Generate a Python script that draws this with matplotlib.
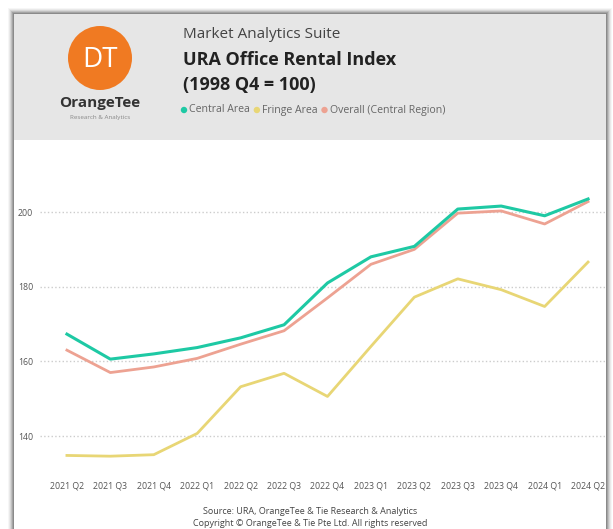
import matplotlib.pyplot as plt
from matplotlib.patches import Rectangle, Circle

plt.rcParams['font.family'] = ['Open Sans', 'DejaVu Sans']

quarters = ["2021 Q2", "2021 Q3", "2021 Q4", "2022 Q1", "2022 Q2", "2022 Q3", "2022 Q4",
            "2023 Q1", "2023 Q2", "2023 Q3", "2023 Q4", "2024 Q1", "2024 Q2"]
central = [167.3, 160.6, 162.0, 163.7, 166.3, 169.8, 181.0, 188.0, 190.8, 200.8, 201.6, 199.0, 203.5]
fringe = [134.8, 134.6, 135.0, 140.7, 153.2, 156.8, 150.6, 164.0, 177.2, 182.1, 179.2, 174.7, 186.6]
overall = [163.0, 157.0, 158.5, 160.8, 164.6, 168.2, 177.0, 186.0, 190.0, 199.7, 200.3, 196.8, 202.8]
yticks = [140, 160, 180, 200]

c_central = '#1ec9a4'
c_fringe = '#e8d675'
c_overall = '#eda292'

W, H = 613, 529
fig = plt.figure(figsize=(W / 100, H / 100), dpi=100)

# background layer in pixel coordinates
bg = fig.add_axes([0, 0, 1, 1])
bg.set_xlim(0, W)
bg.set_ylim(H, 0)
bg.axis('off')

# card shadow + card
for i, a in enumerate([0.05, 0.08, 0.12, 0.18, 0.25, 0.32]):
    bg.add_patch(Rectangle((8 + i, 8 + i), 606 - 8 + 6 - 2 * i, H, color='#555555', alpha=a, lw=0))
bg.add_patch(Rectangle((14, 14), 606 - 14, H, color='white', lw=0))
bg.add_patch(Rectangle((14, 14), 606 - 14, 126, color='#e6e6e6', lw=0))

# logo
bg.add_patch(Circle((100, 58), 32, color='#f07a22', lw=0))
bg.text(100, 60, "DT", color='white', fontsize=20, ha='center', va='center')
bg.text(100, 103, "OrangeTee", color='#333333', fontsize=11, fontweight='bold',
        ha='center', va='center')
bg.text(100, 118, "Research & Analytics", color='#888888', fontsize=4.5,
        ha='center', va='center')

# titles
bg.text(183, 35, "Market Analytics Suite", color='#444444', fontsize=11, va='center')
bg.text(183, 60, "URA Office Rental Index", color='#222222', fontsize=13,
        fontweight='bold', va='center')
bg.text(183, 85, "(1998 Q4 = 100)", color='#222222', fontsize=13,
        fontweight='bold', va='center')

# legend
lx = 181
for name, col in [("Central Area", c_central), ("Fringe Area", c_fringe),
                  ("Overall (Central Region)", c_overall)]:
    bg.add_patch(Circle((lx + 3, 110), 3.2, color=col, lw=0))
    t = bg.text(lx + 8, 110, name, color='#666666', fontsize=7.6, va='center')
    fig.canvas.draw()
    bb = t.get_window_extent()
    lx = lx + 8 + bb.width + 4

# footer
bg.text(310, 512, "Source: URA, OrangeTee & Tie Research & Analytics", color='#444444',
        fontsize=6.5, ha='center', va='center')
bg.text(310, 524, "Copyright \u00a9 OrangeTee & Tie Pte Ltd. All rights reserved", color='#444444',
        fontsize=6.5, ha='center', va='center')

# chart
ax = fig.add_axes([40 / W, (H - 470) / H, 565 / W, 305 / H])
ax.set_facecolor('none')
x = list(range(len(quarters)))
ax.plot(x, fringe, color=c_fringe, lw=2)
ax.plot(x, overall, color=c_overall, lw=2)
ax.plot(x, central, color=c_central, lw=2.2)
ax.set_xlim(-0.62, 12.39)
ax.set_ylim(130.9, 212.6)
ax.set_xticks(x)
ax.set_xticklabels(quarters)
ax.set_yticks(yticks)
ax.tick_params(axis='both', length=0, labelsize=6.3, labelcolor='#555555')
ax.tick_params(axis='x', pad=8)
ax.tick_params(axis='y', pad=5)
ax.grid(axis='y', color='#cccccc', linestyle=':', lw=1)
for s in ax.spines.values():
    s.set_visible(False)

fig.savefig("out.png", dpi=100)
